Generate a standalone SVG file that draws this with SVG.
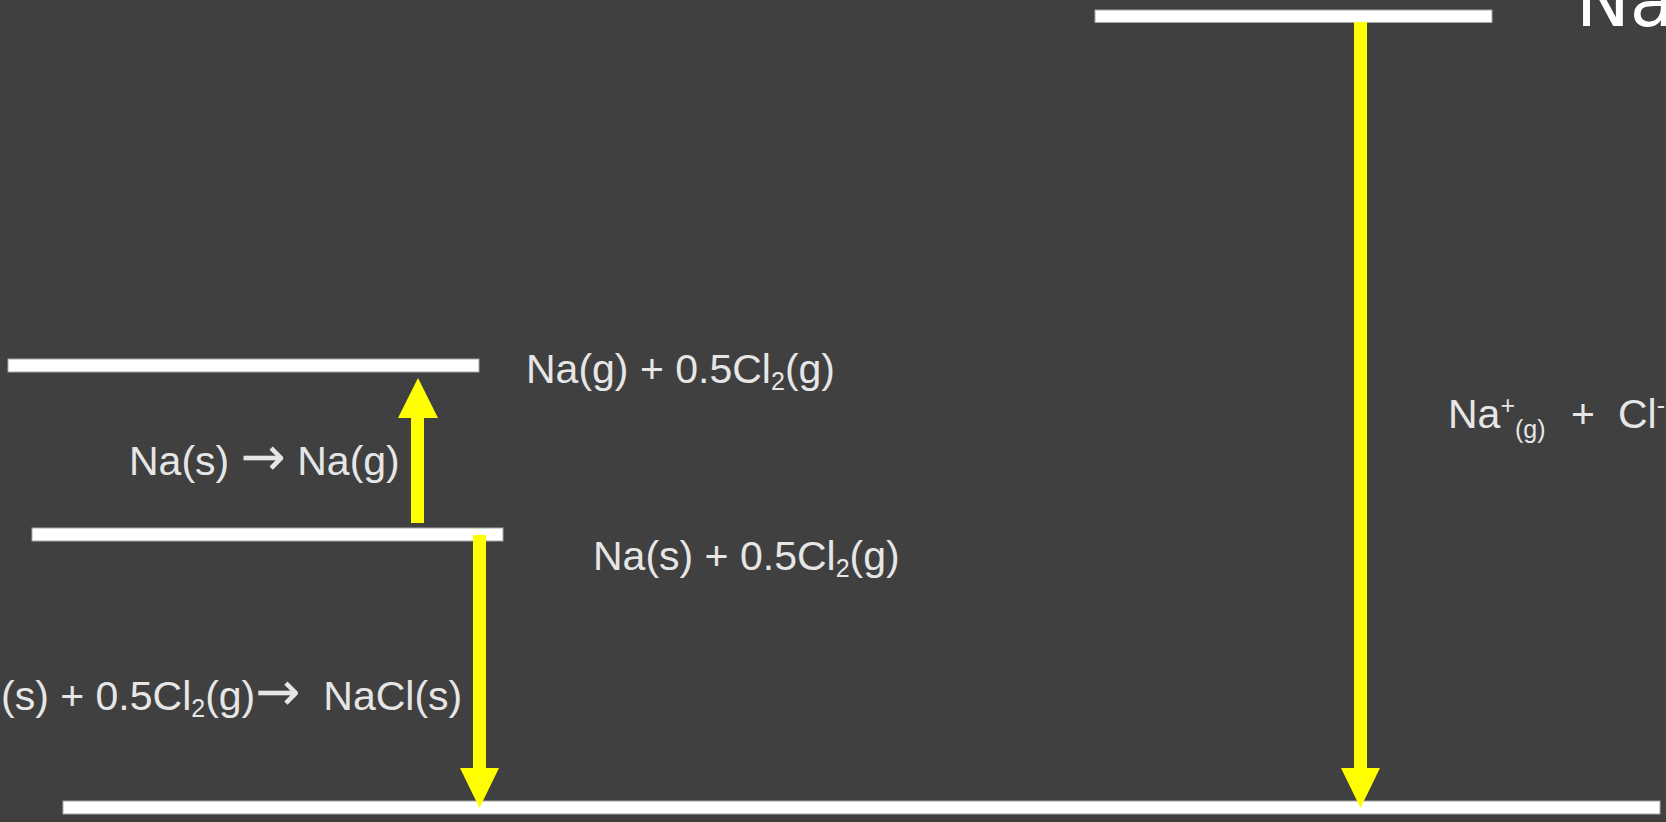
<svg xmlns="http://www.w3.org/2000/svg" width="1666" height="822" viewBox="0 0 1666 822">
  <style>
    .bar { fill: #ffffff; stroke: #a6a6a6; stroke-width: 1; }
    .lbl { font-family: "Liberation Sans", Arial, sans-serif; font-size: 41px; fill: #e6e6e6; }
    .sm { font-size: 25px; }
    .arr { font-family: "DejaVu Sans", sans-serif; font-size: 54px; }
    .arrow { fill: #ffff00; }
  </style>
  <rect x="0" y="0" width="1666" height="822" fill="#404040"/>

  <g id="level-ions">
    <rect class="bar" x="1095" y="10" width="397" height="12.5"/>
    <text x="1576" y="26" font-family="DejaVu Sans, sans-serif" font-size="72" fill="#ffffff">Na</text>
  </g>

  <g id="level-na-g">
    <rect class="bar" x="8" y="359" width="471" height="13"/>
    <text class="lbl" x="526" y="383">Na(g) + 0.5Cl<tspan class="sm" dy="7">2</tspan><tspan dy="-7">(g)</tspan></text>
  </g>

  <g id="level-na-s">
    <rect class="bar" x="32" y="528" width="471" height="13"/>
    <text class="lbl" x="593" y="570">Na(s) + 0.5Cl<tspan class="sm" dy="7">2</tspan><tspan dy="-7">(g)</tspan></text>
  </g>

  <g id="level-nacl">
    <rect class="bar" x="63" y="801" width="1597" height="13"/>
  </g>

  <g id="label-ions-gas">
    <text class="lbl" x="1448" y="428">Na<tspan class="sm" dy="-14">+</tspan><tspan class="sm" dy="24">(g)</tspan></text>
    <text class="lbl" x="1571" y="428">+</text>
    <text class="lbl" x="1618" y="428">Cl<tspan class="sm" dy="-14">-</tspan></text>
  </g>

  <g id="connectors">
    <g id="atomisation">
      <rect class="arrow" x="411" y="417" width="13" height="106"/>
      <polygon class="arrow" points="398,418 438,418 418,378"/>
      <text class="lbl" x="129" y="475">Na(s) <tspan class="arr">→</tspan> Na(g)</text>
    </g>
    <g id="formation">
      <rect class="arrow" x="473" y="535" width="13" height="234"/>
      <polygon class="arrow" points="460,768 499,768 479.5,808"/>
      <text class="lbl" x="1" y="710" xml:space="preserve">(s) + 0.5Cl<tspan class="sm" dy="7">2</tspan><tspan dy="-7">(g)</tspan><tspan class="arr">→</tspan>  NaCl(s)</text>
    </g>
    <g id="lattice">
      <rect class="arrow" x="1354" y="22" width="13" height="747"/>
      <polygon class="arrow" points="1341,768 1380,768 1360.5,808"/>
    </g>
  </g>
</svg>
